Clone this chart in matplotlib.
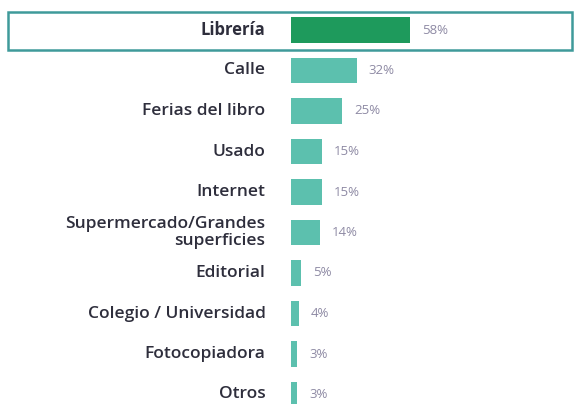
import matplotlib.pyplot as plt
from matplotlib.patches import Rectangle

categories = ["Librería", "Calle", "Ferias del libro", "Usado", "Internet",
              "Supermercado/Grandes\nsuperficies", "Editorial",
              "Colegio / Universidad", "Fotocopiadora", "Otros"]
values = [58, 32, 25, 15, 15, 14, 5, 4, 3, 3]
highlight = "Librería"

W, H = 575, 404
fig = plt.figure(figsize=(W / 100, H / 100), dpi=100)

# axes placed in pixel terms: bars start at x=291
ax = fig.add_axes([291 / W, 0, 1 - 291 / W, 1])
ax.set_xlim(0, 284 / 2.05)
ax.set_ylim((H - 30) / 40.5, -30 / 40.5)
ax.axis('off')

for i, (cat, val) in enumerate(zip(categories, values)):
    hl = cat == highlight
    ax.barh(i, val, height=0.62, color='#1e9a5c' if hl else '#5cc0ae',
            clip_on=False)
    ax.text(-12.5, i, cat, ha='right', va='center',
            fontsize=12 if hl else 12.5, family='Open Sans',
            fontweight='bold' if hl else 'semibold',
            color='#2e2e3c', linespacing=1.15, clip_on=False)
    ax.text(val + 5.8, i, "{}%".format(val), ha='left', va='center',
            fontsize=9.5, family='Open Sans', color='#8e8aa4')

# highlight box around the first row
fig.patches.append(Rectangle((8 / W, 1 - 50 / H), 564 / W, 38 / H,
                             transform=fig.transFigure, fill=False,
                             edgecolor='#3f9a9a', linewidth=1.8))

plt.savefig("out.png", dpi=100)
plt.close()
